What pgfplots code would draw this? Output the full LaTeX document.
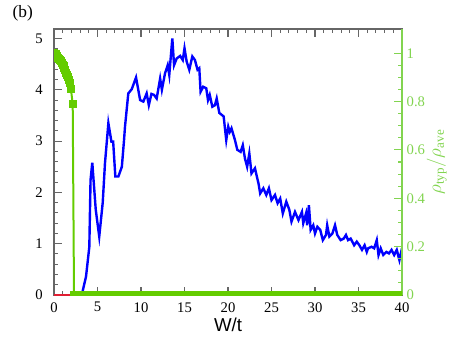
\documentclass[border=0pt]{standalone}
\usepackage{pgfplots}
\pgfplotsset{compat=1.18}
\usepackage{fontspec}
\setmainfont{Liberation Serif}
\newfontfamily\labelsans{Liberation Sans}
\definecolor{gmark}{RGB}{100,204,0}
\definecolor{gaxis}{RGB}{130,212,80}
\definecolor{bline}{RGB}{0,0,255}
\definecolor{rline}{RGB}{225,30,50}
\pgfplotsset{
  base/.style={
    scale only axis, width=261pt, height=199.5pt,
    xmin=0, xmax=40,
    tick align=inside,
    major tick length=6pt, minor tick length=3pt,
    /pgf/number format/assume math mode=true,
    tick label style={font=\fontsize{11}{13}\selectfont},
  }
}
\begin{document}
\begin{tikzpicture}
\useasboundingbox (-40.5pt,-30.75pt) rectangle (296.25pt,221.25pt);
% left axis: rho typ/ave scaled quantity (blue) and red
\begin{axis}[base,
  ymin=0, ymax=5.185,
  xtick={0,5,...,40}, minor x tick num=4,
  ytick={0,1,2,3,4,5}, minor y tick num=4,
  ytick pos=left, xtick pos=both,
  axis line style={black!60, line width=0.8pt},
  tick style={black!60, line width=0.8pt},
  xlabel={W/t},
  xlabel style={font=\labelsans\fontsize{14}{16}\selectfont, at={(rel axis cs:0.5,0)}, anchor=base, yshift=-27.5pt},
  yticklabel style={xshift=-5pt},
  xticklabel style={yshift=-2pt},
]
\addplot[rline, line width=1.5pt] coordinates {(0,0) (2.2,0)};
\addplot[bline, line width=1.8pt] coordinates {
(3.2,0.0)(3.3,0.08)(3.68,0.36)(4.06,0.94)(4.2,2.24)(4.4,2.58)(4.8,1.66)(5.2,1.14)
(5.6,1.8)(5.86,2.57)(6.25,3.35)(6.6,2.99)(6.8,2.99)(7.05,2.31)(7.4,2.31)(7.8,2.5)
(8.05,3.02)(8.16,3.28)(8.54,3.93)(8.93,4.01)(9.43,4.24)(9.9,3.8)(10.27,3.77)(10.65,3.93)
(10.9,3.7)(11.2,3.92)(11.5,3.9)(11.8,3.83)(12.2,4.22)(12.4,4.0)(12.76,4.32)(13.07,4.48)
(13.25,4.29)(13.6,5.0)(13.8,4.48)(14.1,4.61)(14.5,4.66)(14.8,4.58)(15,4.81)(15.25,4.55)
(15.55,4.39)(15.9,4.65)(16.2,4.58)(16.5,4.39)(16.7,4.42)(16.85,3.96)(17.15,4.06)(17.5,4.03)
(17.7,3.8)(17.9,3.9)(18.2,3.67)(18.5,3.7)(18.7,3.83)(19.0,3.55)(19.5,3.48)(19.8,3.02)
(20.03,3.28)(20.2,3.18)(20.4,3.25)(20.8,3.02)(21.07,2.83)(21.45,2.79)(21.7,2.92)(21.95,2.66)
(22.2,2.5)(22.45,2.76)(22.7,2.37)(23.1,2.47)(23.37,2.27)(23.5,2.18)(23.7,1.98)(24.06,2.08)
(24.4,1.95)(24.7,2.08)(25,1.85)(25.4,1.95)(25.7,1.79)(26,1.88)(26.3,1.59)(26.7,1.82)
(27.05,1.66)(27.3,1.43)(27.7,1.62)(28.1,1.46)(28.5,1.62)(28.65,1.4)(28.97,1.59)(29.1,1.36)
(29.3,1.75)(29.5,1.27)(29.8,1.36)(30,1.2)(30.27,1.33)(30.6,1.27)(30.9,1.07)(31.26,1.17)
(31.4,1.36)(31.65,1.14)(32,1.2)(32.3,1.36)(32.56,1.17)(32.95,1.07)(33.3,1.1)(33.56,1.17)
(33.8,1.07)(34.1,1.1)(34.5,0.97)(34.8,1.04)(35.1,0.97)(35.4,0.88)(35.7,0.97)(35.95,0.84)
(36.1,0.91)(36.5,0.94)(36.8,0.91)(37.1,1.07)(37.3,0.78)(37.55,0.91)(37.85,0.78)(38.2,0.84)
(38.5,0.81)(38.8,0.88)(39.1,0.78)(39.4,0.88)(39.7,0.68)(40,0.91)
};
\end{axis}
% right axis: rho_typ / rho_ave (green)
\begin{axis}[base,
  ymin=0, ymax=1.1,
  axis x line=none,
  axis y line*=right,
  ytick={0,0.2,0.4,0.6,0.8,1}, minor y tick num=3,
  y axis line style={gaxis, line width=0.8pt},
  tick style={gaxis, line width=0.8pt},
  yticklabel style={gaxis},
  ylabel={$\rho_{\rm typ}/\rho_{\rm ave}$},
  every axis y label/.style={at={(rel axis cs:1,0.5)}, xshift=26pt, rotate=90, anchor=center, gaxis, font=\fontsize{14}{16}\selectfont},
  clip marker paths=true,
]
\addplot[gmark, line width=1.5pt, mark=square*, mark size=2.25pt, mark options={solid, fill=gmark, draw=gmark}] coordinates {
(0,1.0)(0.1,0.998)(0.2,0.995)(0.3,0.99)(0.4,0.986)(0.5,0.982)(0.6,0.977)(0.7,0.972)
(0.8,0.966)(0.9,0.96)(1.0,0.953)(1.1,0.946)(1.2,0.938)(1.3,0.93)(1.4,0.92)(1.5,0.91)
(1.6,0.9)(1.7,0.89)(1.8,0.875)(1.95,0.85)(2.15,0.79)(2.3,0.0)
(2.5,0)(3,0)(3.5,0)(4,0)(4.5,0)(5,0)(5.5,0)(6,0)(6.5,0)(7,0)(7.5,0)(8,0)(8.5,0)(9,0)(9.5,0)
(10,0)(10.5,0)(11,0)(11.5,0)(12,0)(12.5,0)(13,0)(13.5,0)(14,0)(14.5,0)(15,0)(15.5,0)(16,0)
(16.5,0)(17,0)(17.5,0)(18,0)(18.5,0)(19,0)(19.5,0)(20,0)(20.5,0)(21,0)(21.5,0)(22,0)(22.5,0)
(23,0)(23.5,0)(24,0)(24.5,0)(25,0)(25.5,0)(26,0)(26.5,0)(27,0)(27.5,0)(28,0)(28.5,0)(29,0)
(29.5,0)(30,0)(30.5,0)(31,0)(31.5,0)(32,0)(32.5,0)(33,0)(33.5,0)(34,0)(34.5,0)(35,0)(35.5,0)
(36,0)(36.5,0)(37,0)(37.5,0)(38,0)(38.5,0)(39,0)(39.5,0)(40,0)
};
\end{axis}
\node[anchor=base west, font=\fontsize{13}{15}\selectfont] at (-34.5pt,207.75pt) {(b)};
\end{tikzpicture}
\end{document}
